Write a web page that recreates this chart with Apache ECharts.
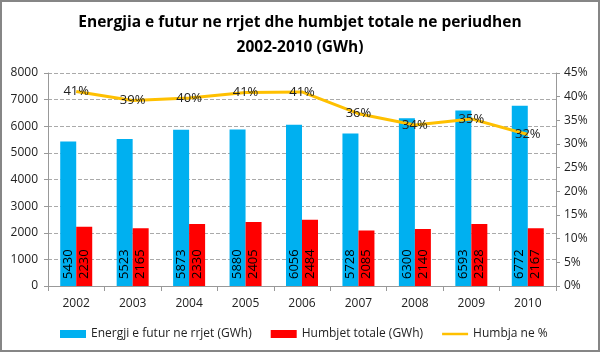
<!DOCTYPE html>
<html>
<head>
<meta charset="utf-8">
<script src="https://cdn.jsdelivr.net/npm/echarts@6/dist/echarts.min.js"></script>
<style>
    html, body { margin: 0; padding: 0; background: #fff; }
    #chart { width: 600px; height: 352px; box-sizing: border-box; border: 2px solid #868686; }
</style>
</head>
<body>
<div id="chart"></div>
<script>
var years = ['2002', '2003', '2004', '2005', '2006', '2007', '2008', '2009', '2010'];
var energjia = [5430, 5523, 5873, 5880, 6056, 5728, 6300, 6593, 6772];
var humbjet = [2230, 2165, 2330, 2405, 2484, 2085, 2140, 2328, 2167];
var humbjaPct = [41.1, 39.2, 39.7, 40.9, 41.0, 36.4, 34.0, 35.3, 32.0];

var myChart = echarts.init(document.getElementById('chart'));
var fontFam = 'Open Sans';

// label i perbashket per shtyllat (vertikal, nga poshte)
var barLabel = {
    show: true,
    position: 'insideBottom',
    rotate: 90,
    align: 'left',
    verticalAlign: 'middle',
    distance: 7,
    fontSize: 13,
    color: '#000'
};

var option = {
    textStyle: {fontFamily: fontFam},
    title: {
        text: 'Energjia e futur ne rrjet dhe humbjet totale ne periudhen\n2002-2010 (GWh)',
        left: 'center',
        top: 3,
        textStyle: {fontSize: 15.5, fontWeight: 'bold', color: '#000', lineHeight: 25, fontFamily: fontFam}
    },
    legend: {
        bottom: 5,
        left: 53,
        itemGap: 19,
        itemWidth: 26,
        itemHeight: 8,
        textStyle: {fontSize: 12, color: '#222', fontFamily: fontFam},
        data: [
            {name: 'Energji e futur ne rrjet (GWh)', icon: 'rect'},
            {name: 'Humbjet totale (GWh)', icon: 'rect'},
            {name: 'Humbja ne %', icon: 'path://M0 0H26V2.5H0Z'}
        ]
    },
    grid: {left: 46, right: 42, top: 71, bottom: 64},
    xAxis: {
        type: 'category',
        data: years,
        axisLine: {lineStyle: {color: '#999'}},
        axisTick: {show: true, lineStyle: {color: '#999'}},
        axisLabel: {fontSize: 12, color: '#222', margin: 12}
    },
    yAxis: [{
        type: 'value',
        min: 0,
        max: 8000,
        interval: 1000,
        axisLine: {show: true, lineStyle: {color: '#999'}},
        axisTick: {show: true, length: 4, lineStyle: {color: '#999'}},
        axisLabel: {fontSize: 12, color: '#222', margin: 10, formatter: function (v) { return String(v); }},
        splitLine: {lineStyle: {type: 'dashed', color: '#aaa'}}
    }, {
        type: 'value',
        min: 0,
        max: 45,
        interval: 5,
        axisLine: {show: true, lineStyle: {color: '#999'}},
        axisTick: {show: true, length: 4, lineStyle: {color: '#999'}},
        axisLabel: {fontSize: 12, color: '#222', margin: 8, formatter: '{value}%'},
        splitLine: {show: false}
    }],
    series: [{
        name: 'Energji e futur ne rrjet (GWh)',
        type: 'bar',
        barWidth: 16,
        barGap: '0%',
        itemStyle: {color: '#00b0f0'},
        label: barLabel,
        data: energjia
    }, {
        name: 'Humbjet totale (GWh)',
        type: 'bar',
        barWidth: 16,
        itemStyle: {color: '#ff0000'},
        label: barLabel,
        data: humbjet
    }, {
        name: 'Humbja ne %',
        type: 'line',
        yAxisIndex: 1,
        showSymbol: true,
        symbol: 'circle',
        symbolSize: 0,
        lineStyle: {color: '#ffc000', width: 3},
        itemStyle: {color: '#ffc000'},
        label: {
            show: true,
            position: 'inside',
            fontSize: 13,
            color: '#222',
            formatter: function (p) { return Math.round(p.value) + '%'; }
        },
        data: humbjaPct
    }]
};

myChart.setOption(option);
</script>
</body>
</html>
